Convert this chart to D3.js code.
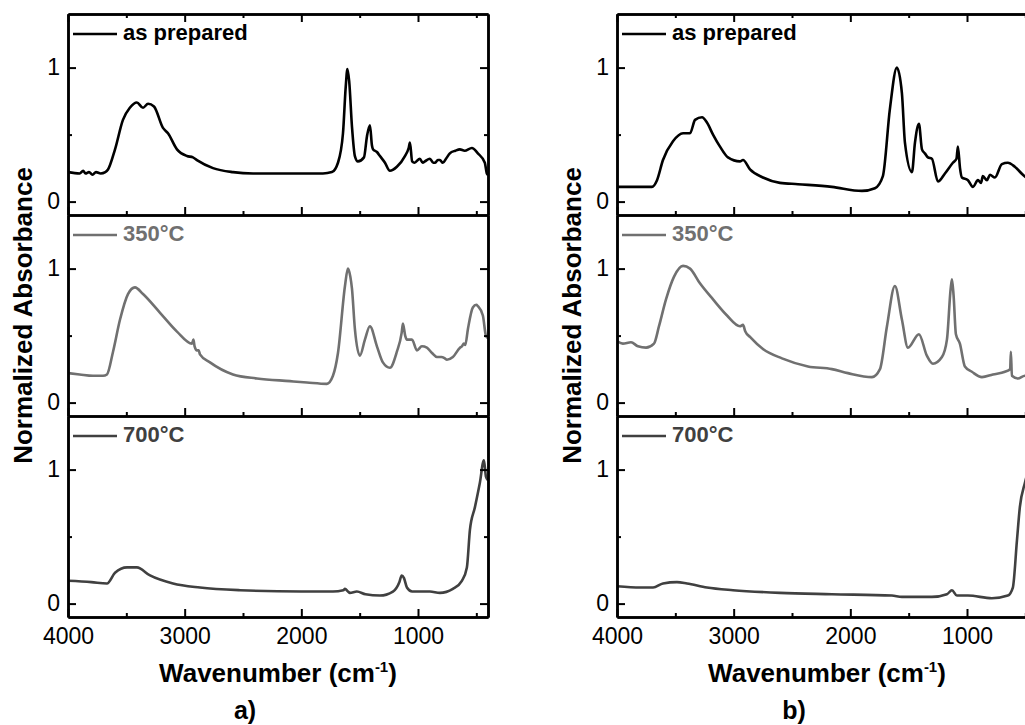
<!DOCTYPE html>
<html>
<head>
<meta charset="utf-8">
<script src="https://cdn.jsdelivr.net/npm/d3@7"></script>
<style>
  html, body { margin: 0; padding: 0; background: #fff; }
  svg { display: block; font-family: "Liberation Sans", Arial, sans-serif; }
</style>
</head>
<body>
<div id="chart"></div>
<script>
// FTIR spectra, two panels (a, b), three stacked layers each
// values: [wavenumber (cm-1), normalized absorbance]

const aAsPrepared = [
  [4000,0.22],[3900,0.21],[3870,0.23],[3850,0.21],[3820,0.22],[3790,0.20],[3760,0.22],[3720,0.21],
  [3680,0.22],[3657,0.24],[3597,0.39],[3529,0.61],[3470,0.70],[3410,0.74],[3357,0.70],[3314,0.73],
  [3263,0.71],[3186,0.55],[3143,0.51],[3066,0.39],[2980,0.34],[2929,0.33],[2895,0.31],[2757,0.25],
  [2586,0.22],[2414,0.21],[2200,0.21],[2000,0.21],[1815,0.21],[1738,0.22],[1686,0.29],[1643,0.51],
  [1620,0.85],[1605,0.99],[1590,0.90],[1566,0.56],[1541,0.34],[1515,0.30],[1463,0.33],[1437,0.49],
  [1412,0.57],[1395,0.42],[1386,0.39],[1352,0.37],[1326,0.34],[1283,0.29],[1241,0.23],[1181,0.26],
  [1112,0.34],[1080,0.40],[1069,0.44],[1050,0.30],[1030,0.29],[984,0.32],[960,0.29],[941,0.30],
  [898,0.32],[870,0.29],[855,0.29],[830,0.31],[812,0.31],[787,0.29],[760,0.32],[727,0.36],
  [680,0.38],[641,0.39],[600,0.38],[538,0.40],[487,0.36],[427,0.29],[410,0.21],[400,0.20]
];
const a350 = [
  [4000,0.22],[3900,0.21],[3786,0.20],[3700,0.20],[3666,0.21],[3614,0.38],[3554,0.62],[3486,0.81],
  [3426,0.86],[3357,0.81],[3211,0.67],[3066,0.53],[2937,0.44],[2925,0.47],[2915,0.42],[2895,0.39],
  [2880,0.39],[2869,0.36],[2783,0.30],[2586,0.21],[2380,0.18],[2097,0.16],[1952,0.15],[1781,0.14],
  [1729,0.20],[1686,0.37],[1626,0.87],[1601,1.00],[1580,0.94],[1566,0.85],[1541,0.55],[1498,0.35],
  [1455,0.47],[1412,0.57],[1352,0.42],[1301,0.30],[1241,0.26],[1181,0.38],[1140,0.52],[1129,0.59],
  [1110,0.50],[1095,0.47],[1052,0.47],[1009,0.39],[967,0.42],[924,0.41],[880,0.37],[838,0.34],
  [800,0.34],[770,0.33],[752,0.32],[701,0.34],[640,0.41],[624,0.42],[607,0.44],[595,0.43],
  [572,0.55],[530,0.71],[500,0.73],[487,0.72],[444,0.65],[418,0.50],[400,0.48]
];
const a700 = [
  [4000,0.17],[3800,0.16],[3666,0.15],[3597,0.23],[3494,0.27],[3410,0.27],[3297,0.21],[3100,0.15],
  [2869,0.12],[2526,0.10],[2000,0.09],[1729,0.09],[1640,0.10],[1626,0.11],[1600,0.09],[1584,0.08],
  [1524,0.09],[1450,0.07],[1326,0.06],[1215,0.09],[1160,0.16],[1140,0.21],[1120,0.19],[1095,0.12],
  [1050,0.09],[1009,0.09],[898,0.09],[812,0.08],[701,0.11],[624,0.17],[581,0.27],[555,0.55],
  [512,0.72],[470,0.90],[435,1.07],[418,0.95],[400,0.92]
];
const bAsPrepared = [
  [4000,0.11],[3800,0.11],[3700,0.11],[3657,0.16],[3606,0.31],[3520,0.45],[3434,0.51],[3374,0.51],
  [3331,0.61],[3271,0.63],[3229,0.59],[3177,0.50],[3117,0.41],[3049,0.33],[2946,0.30],[2920,0.31],
  [2860,0.24],[2749,0.18],[2603,0.14],[2449,0.13],[2158,0.11],[1901,0.08],[1789,0.10],[1721,0.19],
  [1661,0.69],[1601,1.00],[1558,0.81],[1532,0.44],[1472,0.22],[1446,0.44],[1412,0.58],[1386,0.39],
  [1361,0.36],[1335,0.33],[1301,0.32],[1249,0.15],[1189,0.21],[1121,0.29],[1090,0.32],[1078,0.41],
  [1060,0.25],[1044,0.18],[992,0.16],[949,0.11],[906,0.16],[880,0.14],[864,0.19],[829,0.16],
  [803,0.20],[761,0.18],[701,0.28],[650,0.29],[590,0.26],[521,0.20],[450,0.15],[400,0.12]
];
const b350 = [
  [4000,0.46],[3950,0.44],[3880,0.45],[3820,0.42],[3751,0.41],[3683,0.44],[3640,0.57],[3580,0.77],
  [3511,0.94],[3434,1.02],[3374,1.00],[3289,0.89],[3177,0.77],[3057,0.65],[2946,0.57],[2920,0.58],
  [2900,0.53],[2860,0.49],[2749,0.40],[2586,0.33],[2363,0.27],[2158,0.25],[2021,0.22],[1815,0.19],
  [1746,0.25],[1686,0.57],[1618,0.87],[1558,0.62],[1506,0.41],[1412,0.51],[1344,0.35],[1292,0.29],
  [1215,0.34],[1172,0.47],[1140,0.85],[1129,0.92],[1115,0.80],[1095,0.51],[1061,0.44],[1018,0.27],
  [958,0.23],[872,0.19],[778,0.21],[675,0.23],[630,0.25],[624,0.38],[615,0.20],[564,0.18],
  [504,0.20],[450,0.18],[400,0.18]
];
const b700 = [
  [4000,0.13],[3800,0.12],[3691,0.12],[3606,0.15],[3486,0.16],[3400,0.15],[3229,0.12],[3006,0.10],
  [2603,0.08],[2158,0.07],[1644,0.06],[1558,0.05],[1301,0.05],[1172,0.07],[1129,0.10],[1087,0.06],
  [992,0.06],[787,0.04],[650,0.06],[607,0.12],[572,0.47],[547,0.72],[504,0.90],[450,1.05],[400,1.12]
];

const seriesLabels = ["as prepared", "350°C", "700°C"];
const seriesColors = ["#000000", "#707070", "#404040"];
const panelLabels = ["a)", "b)"];
const xMajorTicks = [4000, 3000, 2000, 1000];
const xMinorTicks = [3500, 2500, 1500, 500];
const yMajorTicks = [0, 1];
const yMinorTicks = [0.5];

// layout
const WIDTH = 1025, HEIGHT = 725;
const topY = 14;
const subH = 201;
const plotW = 420;
const panelLeft = [68, 617];

const svg = d3.select("#chart").append("svg")
  .attr("width", WIDTH)
  .attr("height", HEIGHT)
  .attr("viewBox", `0 0 ${WIDTH} ${HEIGHT}`);

const x = d3.scaleLinear().domain([4000, 400]).range([0, plotW]);
const y = d3.scaleLinear().domain([-0.1, 1.4]).range([subH, 0]);

const line = d3.line()
  .x(d => x(d[0]))
  .y(d => y(d[1]))
  .curve(d3.curveMonotoneX);

const panels = [
  { left: panelLeft[0], series: [aAsPrepared, a350, a700], label: panelLabels[0] },
  { left: panelLeft[1], series: [bAsPrepared, b350, b700], label: panelLabels[1] }
];

function styleAxis(sel, showText) {
  sel.select(".domain").attr("stroke", "#000").attr("stroke-width", 2.5);
  sel.selectAll(".tick line").attr("stroke", "#000").attr("stroke-width", 2);
  sel.selectAll(".tick text")
    .attr("fill", "#000")
    .style("font-size", "23px")
    .style("font-family", "'Liberation Sans', Arial, sans-serif");
  if (!showText) sel.selectAll(".tick text").remove();
}

panels.forEach((p, pi) => {
  p.series.forEach((data, i) => {
    const g = svg.append("g").attr("transform", `translate(${p.left},${topY + i * subH})`);

    const clipId = `clip-${pi}-${i}`;
    g.append("clipPath").attr("id", clipId)
      .append("rect").attr("x", 0).attr("y", 0).attr("width", plotW).attr("height", subH);

    // spectrum
    g.append("path")
      .datum(data)
      .attr("clip-path", `url(#${clipId})`)
      .attr("fill", "none")
      .attr("stroke", seriesColors[i])
      .attr("stroke-width", 2.6)
      .attr("stroke-linejoin", "round")
      .attr("d", line);

    // left axis
    g.append("g")
      .call(d3.axisLeft(y).tickValues(yMajorTicks).tickSize(-8).tickSizeOuter(0).tickPadding(8).tickFormat(d3.format("d")))
      .call(s => styleAxis(s, true));
    g.append("g")
      .call(d3.axisLeft(y).tickValues(yMinorTicks).tickSize(-4).tickSizeOuter(0).tickFormat(""))
      .call(s => styleAxis(s, false));

    // right axis
    g.append("g").attr("transform", `translate(${plotW},0)`)
      .call(d3.axisRight(y).tickValues(yMajorTicks).tickSize(-8).tickSizeOuter(0).tickFormat(""))
      .call(s => styleAxis(s, false));
    g.append("g").attr("transform", `translate(${plotW},0)`)
      .call(d3.axisRight(y).tickValues(yMinorTicks).tickSize(-4).tickSizeOuter(0).tickFormat(""))
      .call(s => styleAxis(s, false));

    // bottom axis
    const last = i === p.series.length - 1;
    g.append("g").attr("transform", `translate(0,${subH})`)
      .call(d3.axisBottom(x).tickValues(xMajorTicks).tickSize(-8).tickSizeOuter(0).tickPadding(11).tickFormat(d3.format("d")))
      .call(s => styleAxis(s, last));
    g.append("g").attr("transform", `translate(0,${subH})`)
      .call(d3.axisBottom(x).tickValues(xMinorTicks).tickSize(-4).tickSizeOuter(0).tickFormat(""))
      .call(s => styleAxis(s, false));

    // top axis on the first layer
    if (i === 0) {
      g.append("g")
        .call(d3.axisTop(x).tickValues(xMajorTicks).tickSize(-8).tickSizeOuter(0).tickFormat(""))
        .call(s => styleAxis(s, false));
      g.append("g")
        .call(d3.axisTop(x).tickValues(xMinorTicks).tickSize(-4).tickSizeOuter(0).tickFormat(""))
        .call(s => styleAxis(s, false));
    }

    // legend
    const leg = g.append("g").attr("transform", "translate(5,20)");
    leg.append("line")
      .attr("x1", 0).attr("x2", 44).attr("y1", 0).attr("y2", 0)
      .attr("stroke", seriesColors[i]).attr("stroke-width", 2.6);
    leg.append("text")
      .attr("x", 50).attr("y", 6)
      .attr("fill", seriesColors[i])
      .style("font-size", "22px")
      .style("font-weight", "bold")
      .text(seriesLabels[i]);
  });

  // y title
  svg.append("text")
    .attr("transform", `translate(${p.left - 36},${topY + subH * 1.5}) rotate(-90)`)
    .attr("text-anchor", "middle")
    .style("font-size", "26px")
    .style("font-weight", "bold")
    .text("Normalized Absorbance");

  // x title with superscript
  const xt = svg.append("text")
    .attr("x", p.left + plotW / 2)
    .attr("y", 682)
    .attr("text-anchor", "middle")
    .style("font-size", "26px")
    .style("font-weight", "bold");
  xt.append("tspan").text("Wavenumber (cm");
  xt.append("tspan").attr("dy", -10).style("font-size", "15px").text("-1");
  xt.append("tspan").attr("dy", 10).text(")");

  // panel label
  svg.append("text")
    .attr("x", p.left + 177)
    .attr("y", 719)
    .attr("text-anchor", "middle")
    .style("font-size", "25px")
    .style("font-weight", "bold")
    .text(p.label);
});
</script>
</body>
</html>
